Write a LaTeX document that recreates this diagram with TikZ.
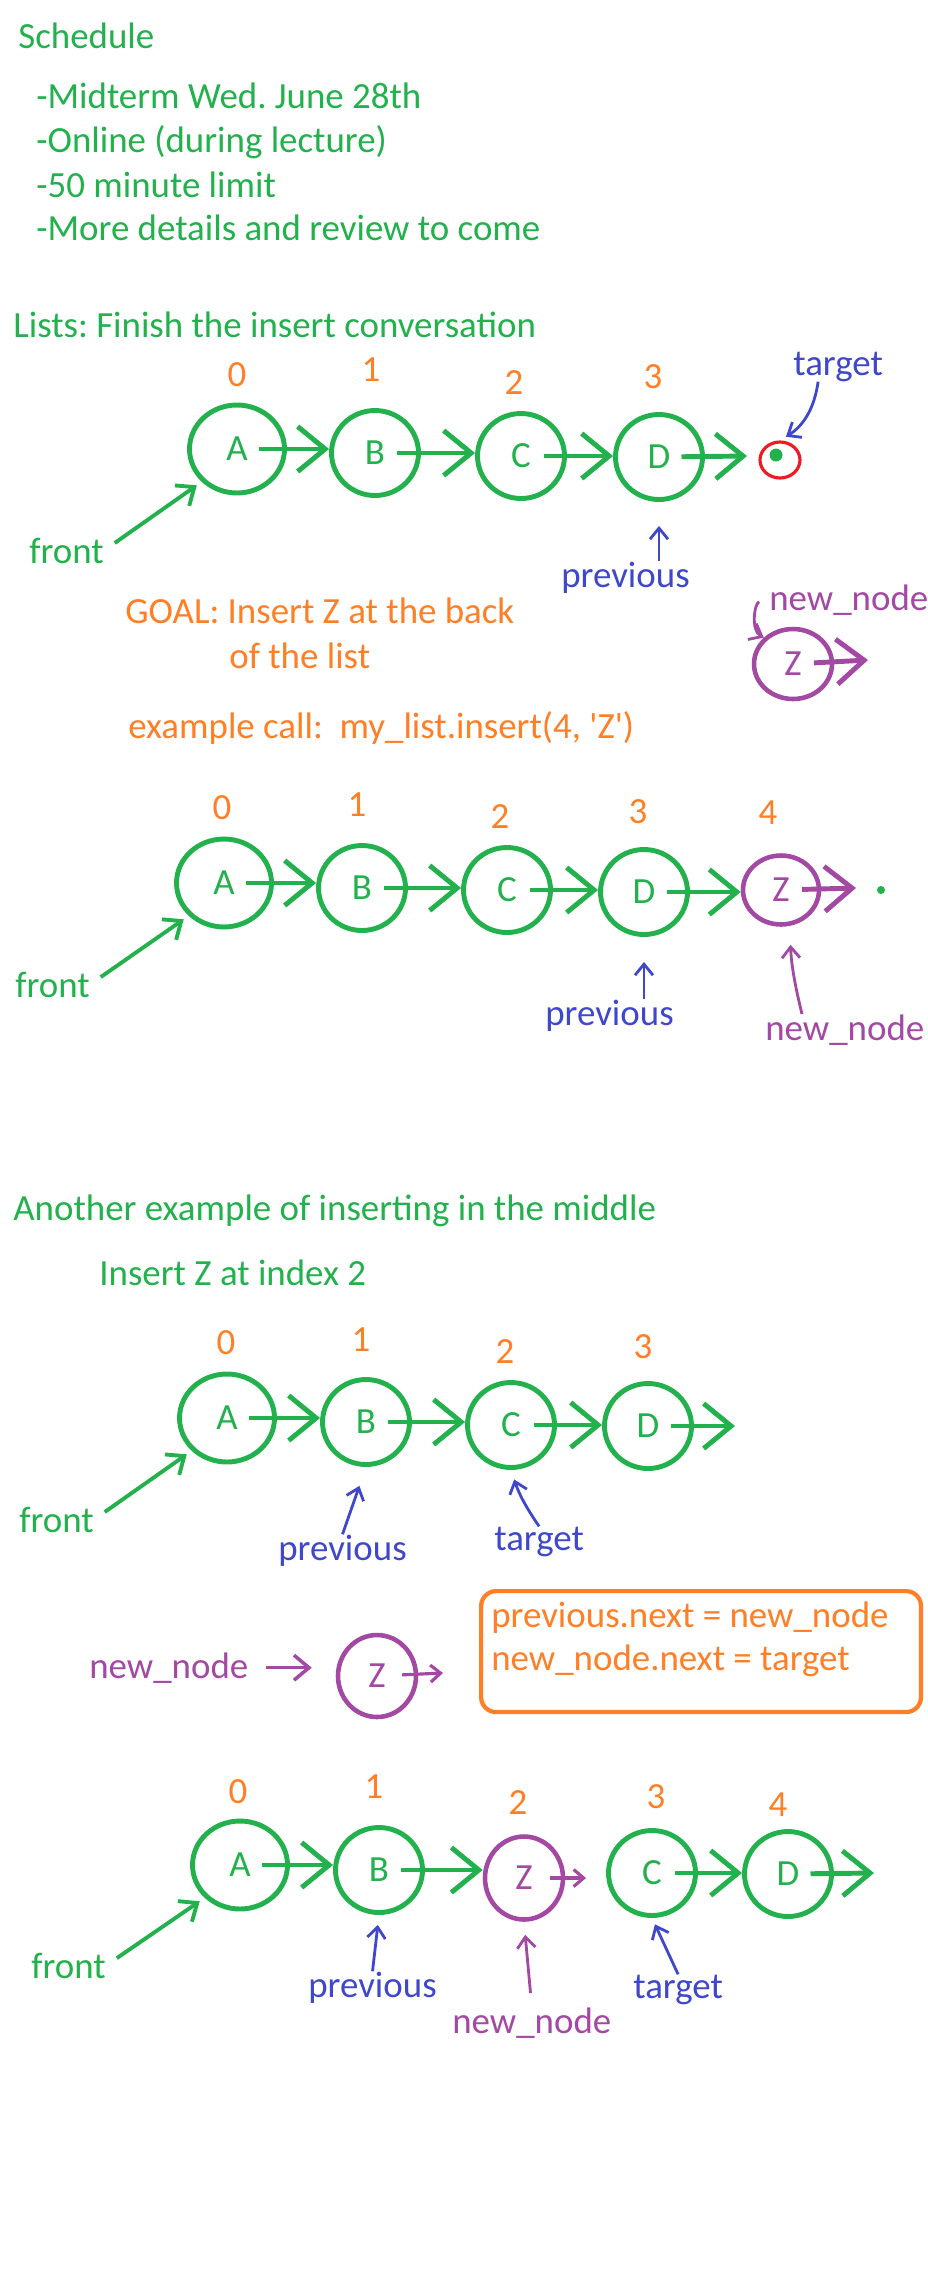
\documentclass[tikz,border=0pt]{standalone}
\usepackage{fontspec}
\setmainfont{Carlito}
\usetikzlibrary{arrows.meta,shapes.geometric}
\definecolor{listgreen}{RGB}{34,177,76}
\definecolor{idxorange}{RGB}{255,127,39}
\definecolor{ptrblue}{RGB}{63,72,204}
\definecolor{newpurple}{RGB}{163,73,164}
\definecolor{nullred}{RGB}{237,28,36}
\frenchspacing

\begin{document}
\begin{tikzpicture}[x=0.02cm, y=0.02cm, font=\fontsize{21}{25}\selectfont,
    txt/.style={anchor=base west, inner sep=0pt},
    idx/.style={inner sep=0pt, text=idxorange},
    lnode/.style={ellipse, draw=listgreen, text=listgreen, line width=2.8pt,
      minimum width=1.74cm, minimum height=1.7cm, inner sep=0pt},
    headnode/.style={minimum width=1.9cm, minimum height=1.76cm},
    znode/.style={ellipse, draw=newpurple, text=newpurple, line width=2.6pt,
      minimum width=1.56cm, minimum height=1.4cm, inner sep=0pt},
    link/.style={draw=listgreen, line width=2.8pt,
      -{Straight Barb[length=0.55cm, width=0.9cm]}, shorten <=0.45cm},
    zlink/.style={link, draw=newpurple},
    zshort/.style={draw=newpurple, line width=1.8pt,
      -{Straight Barb[length=0.2cm, width=0.34cm]}},
    frontptr/.style={draw=listgreen, line width=2.2pt,
      -{Straight Barb[length=0.3cm, width=0.5cm]}, shorten <=0.26cm, shorten >=0.12cm},
    bptr/.style={draw=ptrblue, line width=1.6pt,
      -{Straight Barb[length=0.22cm, width=0.36cm]}},
    pptr/.style={bptr, draw=newpurple},
    nulldot/.style={circle, fill=listgreen, inner sep=0pt, minimum size=0.26cm}]

    \fill[white] (0,0) rectangle (928,-2296);
    \useasboundingbox (0,0) rectangle (928,-2296);

    % schedule
    \node (sched) at (18,-48) [txt, text=listgreen] {Schedule};
    \node (s1) at (36,-108) [txt, text=listgreen] {-Midterm Wed. June 28th};
    \node (s2) at (36,-152) [txt, text=listgreen] {-Online (during lecture)};
    \node (s3) at (36,-197) [txt, text=listgreen] {-50 minute limit};
    \node (s4) at (36,-240) [txt, text=listgreen] {-More details and review to come};

    % insert at the back
    \node (title1) at (13,-337) [txt, text=listgreen] {Lists: Finish the insert conversation};
    \node (i10) at (237,-375) [idx] {0};
    \node (i11) at (371,-370) [idx] {1};
    \node (i12) at (514,-383) [idx] {2};
    \node (i13) at (653,-377) [idx] {3};
    \node (A1) at (237,-449) [lnode, headnode] {A};
    \node (B1) at (375,-453) [lnode] {B};
    \node (C1) at (521,-456) [lnode] {C};
    \node (D1) at (659,-457) [lnode] {D};
    \coordinate (end1) at (747,-456);
    \node (dot1) at (776,-455) [nulldot] {};
    \node (ring1) at (780,-460) [ellipse, draw=nullred, line width=1.8pt,
      minimum width=0.8cm, minimum height=0.72cm, inner sep=0pt] {};
    \draw[link] (A1.center) -- (A1.center -| B1.west);
    \draw[link] (B1.center) -- (B1.center -| C1.west);
    \draw[link] (C1.center) -- (C1.center -| D1.west);
    \draw[link] (D1.center) -- (end1);
    \node (tg1) at (793,-375) [txt, text=ptrblue] {target};
    \draw[bptr, shorten >=0.14cm] ([xshift=-0.4cm]tg1.south) to[bend left=25] (ring1.north);
    \node (fr1) at (29,-563) [txt, text=listgreen] {front};
    \draw[frontptr] (fr1.east) -- (A1.south west);
    \node (pv1) at (561,-587) [txt, text=ptrblue] {previous};
    \draw[bptr, shorten >=0.48cm] (pv1.north -| D1.south) -- (D1.south);

    \node (goal1) at (125,-623) [txt, text=idxorange] {GOAL: Insert Z at the back};
    \node (goal2) at (229,-668) [txt, text=idxorange] {of the list};
    \node (nn1) at (769,-610) [txt, text=newpurple] {new\_node};
    \node (Z1) at (793,-664) [znode] {Z};
    \coordinate (zend1) at (868,-660);
    \draw[zlink, shorten <=0.42cm] (Z1.center) -- (zend1);
    \draw[pptr, shorten <=0.2cm] (nn1.west) to[bend right=70] (Z1.north west);
    \node (call) at (128,-738) [txt, text=idxorange]
      {example call:\ \ my\_list.insert(4, \textquotesingle Z\textquotesingle)};

    \node (i20) at (222,-808) [idx] {0};
    \node (i21) at (357,-805) [idx] {1};
    \node (i22) at (500,-817) [idx] {2};
    \node (i23) at (638,-812) [idx] {3};
    \node (i24) at (768,-813) [idx] {4};
    \node (A2) at (224,-883) [lnode, headnode] {A};
    \node (B2) at (362,-888) [lnode] {B};
    \node (C2) at (507,-890) [lnode] {C};
    \node (D2) at (644,-892) [lnode] {D};
    \node (Z2) at (781,-890) [znode, minimum height=1.38cm, minimum width=1.52cm] {Z};
    \coordinate (zend2) at (856,-888);
    \node (dot2) at (881,-890) [nulldot, minimum size=0.16cm] {};
    \draw[link] (A2.center) -- (A2.center -| B2.west);
    \draw[link] (B2.center) -- (B2.center -| C2.west);
    \draw[link] (C2.center) -- (C2.center -| D2.west);
    \draw[link] (D2.center) -- (D2.center -| Z2.west);
    \draw[zlink, shorten <=0.42cm] (Z2.center) -- (zend2);
    \node (fr2) at (15,-997) [txt, text=listgreen] {front};
    \draw[frontptr] (fr2.east) -- (A2.south west);
    \node (pv2) at (545,-1025) [txt, text=ptrblue] {previous};
    \draw[bptr, shorten >=0.5cm] (pv2.north -| D2.south) -- (D2.south);
    \node (nn2) at (765,-1040) [txt, text=newpurple] {new\_node};
    \draw[pptr, shorten >=0.36cm] ([xshift=0.74cm]nn2.north west) to[bend left=6] ([xshift=0.18cm]Z2.south);

    % insert in the middle
    \node (title2) at (13,-1220) [txt, text=listgreen] {Another example of inserting in the middle};
    \node (title3) at (99,-1285) [txt, text=listgreen] {Insert Z at index 2};
    \node (i30) at (226,-1343) [idx] {0};
    \node (i31) at (361,-1340) [idx] {1};
    \node (i32) at (505,-1352) [idx] {2};
    \node (i33) at (643,-1347) [idx] {3};
    \node (A3) at (227,-1418) [lnode, headnode] {A};
    \node (B3) at (366,-1422) [lnode] {B};
    \node (C3) at (511,-1425) [lnode] {C};
    \node (D3) at (648,-1426) [lnode] {D};
    \coordinate (end3) at (735,-1426);
    \draw[link] (A3.center) -- (A3.center -| B3.west);
    \draw[link] (B3.center) -- (B3.center -| C3.west);
    \draw[link] (C3.center) -- (C3.center -| D3.west);
    \draw[link] (D3.center) -- (end3);
    \node (fr3) at (19,-1532) [txt, text=listgreen] {front};
    \draw[frontptr] (fr3.east) -- (A3.south west);
    \node (pv3) at (278,-1560) [txt, text=ptrblue] {previous};
    \draw[bptr, shorten >=0.4cm] (pv3.north) -- (B3.south);
    \node (tg3) at (494,-1550) [txt, text=ptrblue] {target};
    \draw[bptr, shorten >=0.2cm] (tg3.north) to[bend left=8] (C3.south);

    \node (nn3) at (89,-1678) [txt, text=newpurple] {new\_node};
    \node (Z3) at (377,-1676) [znode, minimum height=1.64cm] {Z};
    \coordinate (zend3) at (443,-1673);
    \draw[pptr, line width=2pt, -{Straight Barb[length=0.3cm, width=0.5cm]},
      shorten <=0.34cm, shorten >=0.48cm] (nn3.east) -- (nn3.east -| Z3.west);
    \draw[zshort, shorten <=0.5cm] (Z3.center) -- (zend3);
    \node (code) at (479,-1589) [anchor=north west, draw=idxorange, line width=2.4pt,
      rounded corners=0.3cm, minimum width=8.8cm, minimum height=2.42cm] {};
    \node (cl1) at (491,-1627) [txt, text=idxorange] {previous.next = new\_node};
    \node (cl2) at (491,-1670) [txt, text=idxorange] {new\_node.next = target};

    \node (i40) at (238,-1792) [idx] {0};
    \node (i41) at (374,-1787) [idx] {1};
    \node (i42) at (518,-1803) [idx] {2};
    \node (i43) at (656,-1797) [idx] {3};
    \node (i44) at (778,-1805) [idx] {4};
    \node (A4) at (240,-1865) [lnode, headnode] {A};
    \node (B4) at (379,-1870) [lnode] {B};
    \node (Z4) at (524,-1878) [znode, minimum height=1.66cm] {Z};
    \node (C4) at (652,-1873) [lnode] {C};
    \node (D4) at (788,-1874) [lnode] {D};
    \coordinate (end4) at (874,-1873);
    \draw[link] (A4.center) -- (A4.center -| B4.west);
    \draw[link] (B4.center) -- (B4.center -| Z4.west);
    \draw[zshort, shorten <=0.52cm, shorten >=0.4cm] (Z4.center) -- (Z4.center -| C4.west);
    \draw[link] (C4.center) -- (C4.center -| D4.west);
    \draw[link] (D4.center) -- (end4);
    \node (fr4) at (31,-1978) [txt, text=listgreen] {front};
    \draw[frontptr] (fr4.east) -- (A4.south west);
    \node (pv4) at (308,-1997) [txt, text=ptrblue] {previous};
    \draw[bptr, shorten >=0.2cm] (pv4.north) -- (B4.south);
    \node (nn4) at (452,-2033) [txt, text=newpurple] {new\_node};
    \draw[pptr, shorten <=0.28cm, shorten >=0.26cm] (nn4.north) -- (Z4.south);
    \node (tg4) at (633,-1998) [txt, text=ptrblue] {target};
    \draw[bptr, shorten >=0.14cm] (tg4.north) -- (C4.south);
\end{tikzpicture}
\end{document}
